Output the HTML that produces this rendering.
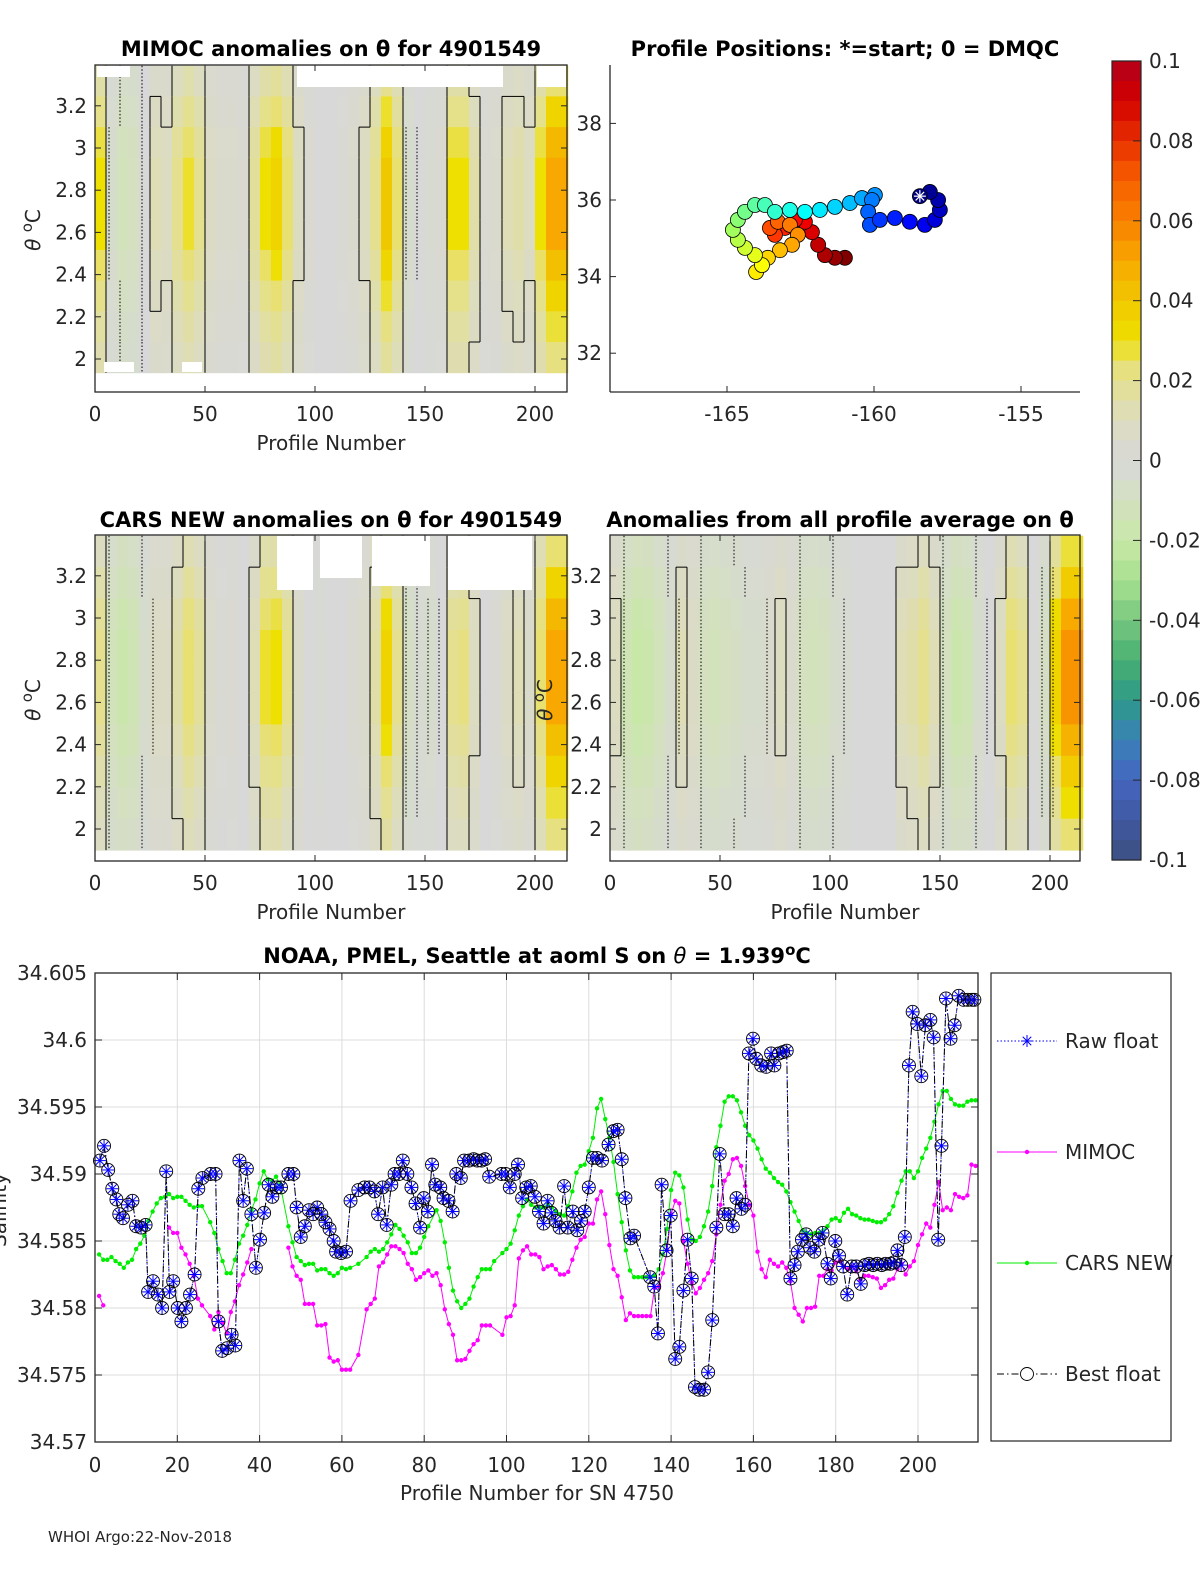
<!DOCTYPE html>
<html><head><meta charset="utf-8"><title>Argo float 4901549 anomalies</title>
<style>
html,body{margin:0;padding:0;background:#fff;}
svg text{font-family:"DejaVu Sans","Liberation Sans",sans-serif;fill:#262626;}
.tl{font-size:20px;}
.ttl{font-size:21px;font-weight:bold;fill:#000;}
</style></head>
<body>
<svg id="fig" xmlns="http://www.w3.org/2000/svg" width="1200" height="1575" viewBox="0 0 1200 1575">
<rect x="0" y="0" width="1200" height="1575" fill="#fff"/>
</svg>
<script>
// ===== data: heatmap column anomalies (5-profile bins, 0..215) =====
const mimocCols=[0.03,-0.005,-0.012,-0.01,0.0,0.012,0.01,0.02,0.028,0.02,0.008,0.005,0.005,0.003,0.018,0.03,0.035,0.025,0.01,0.003,0,0,0.002,0.005,0.01,0.02,0.04,0.025,-0.005,0.0,-0.003,0.003,0.03,0.03,0.015,0.003,0.005,0.012,0.015,0.01,0.03,0.05,0.05];
const carsCols=[0.02,-0.012,-0.018,-0.015,-0.005,0.008,0.008,0.015,0.025,0.018,0.005,0.002,0.003,0.0,0.012,0.028,0.03,0.02,0.006,0.0,-0.002,0,0.0,0.003,0.006,0.015,0.035,0.02,-0.008,-0.003,-0.005,0.0,0.02,0.022,0.01,0.0,0.003,0.008,0.012,0.006,0.025,0.05,0.05];
const avgCols=[0.01,-0.015,-0.02,-0.018,-0.012,-0.005,0.012,0.008,-0.01,-0.012,-0.01,-0.008,-0.005,-0.005,0.005,0.01,0.005,-0.01,-0.012,-0.01,-0.005,-0.003,0,0,0,0,0.012,0.015,0.02,0.012,-0.01,-0.018,-0.015,-0.005,0,0.01,0.025,0.02,0,-0.008,0.035,0.055,0.055];
const rowWeights=[0.5,0.7,0.9,1,1,1,0.85,0.7,0.55,0.45];
// ===== data: float positions =====
const posLon=[-158.44,-158.10,-157.82,-157.76,-157.93,-158.27,-158.78,-159.29,-159.80,-160.14,-160.20,-160.07,-159.97,-160.41,-160.82,-161.33,-161.84,-162.35,-162.86,-163.37,-163.71,-164.05,-164.39,-164.63,-164.80,-164.63,-164.39,-164.05,-163.81,-164.01,-163.61,-163.20,-162.79,-162.59,-162.86,-163.27,-163.54,-163.37,-163.03,-162.69,-162.35,-162.11,-161.90,-161.67,-161.33,-160.99];
const posLat=[36.10,36.21,36.00,35.74,35.48,35.35,35.43,35.53,35.48,35.35,35.69,36.00,36.13,36.05,35.92,35.82,35.74,35.69,35.74,35.69,35.87,35.87,35.69,35.48,35.22,34.96,34.75,34.56,34.30,34.12,34.49,34.69,34.83,35.09,35.35,35.43,35.27,35.09,35.27,35.48,35.43,35.16,34.83,34.56,34.49,34.49];
// ===== data: colorbar =====
const cbTicks=[0.1,0.08,0.06,0.04,0.02,0,-0.02,-0.04,-0.06,-0.08,-0.1];
const cbLabels=["0.1","0.08","0.06","0.04","0.02","0","-0.02","-0.04","-0.06","-0.08","-0.1"];
// ===== data: bottom salinity chart =====
const floatProf=[1.2,2.2,3.2,4.2,5.2,5.9,6.8,8,9.1,10,11.2,12.3,12.9,14.1,15.3,16.3,17.3,18.1,19,20.1,21,22.1,23.1,24.2,25.1,26.1,28.1,29.3,30,30.9,32.1,33.2,34.1,35.1,36,36.9,38,39.1,40.1,41.1,42.2,43.1,44.2,45.2,47,48.2,49,50,51,52,53,54,55,56,57,58,58.6,59.8,61,62.1,64,65.5,66.7,67.9,68.8,69.9,70.9,72,72.8,73.9,74.8,75.9,76.9,77.9,79,79.9,80.9,81.9,82.7,83.9,84.7,85.9,86.9,87.8,88.9,89.7,90.9,92,92.9,94,94.8,95.8,98.8,99.8,100.8,102,102.8,103.8,104.8,105.9,106.9,107.9,109,110,110.9,111.9,112.9,114,114.9,116.1,117.2,118.1,119,120,121,122,123.2,124.8,126,127,128,128.9,130.1,131,134.9,135.9,136.8,137.7,138.9,139.9,141,142,143,144,145,145.8,146.8,148,149,150,151,151.8,153,154,155,155.9,157.1,158,158.9,159.9,160.7,161.9,163.1,164.3,165.1,166.2,167.2,168.1,169,170,170.8,171.8,172.8,173.8,174.8,175.9,176.8,178,178.8,179.9,180.8,181.8,182.8,183.9,185,186.1,187.1,188.1,189.1,190.1,191.2,192.1,193.3,194.1,195,195.9,196.8,197.8,198.7,199.8,200.8,201.8,203,203.8,204.9,205.7,206.8,207.9,208.9,209.9,211.1,212.1,213.1,213.7];
const bestVals=[34.591,34.5921,34.5903,34.5889,34.5881,34.587,34.5867,34.5877,34.588,34.5861,34.586,34.5862,34.5812,34.582,34.581,34.580,34.5902,34.5812,34.582,34.580,34.579,34.580,34.581,34.5825,34.5889,34.5897,34.590,34.590,34.579,34.5768,34.577,34.578,34.5772,34.591,34.588,34.5904,34.587,34.583,34.5851,34.5871,34.5892,34.5883,34.589,34.589,34.590,34.590,34.5875,34.5853,34.5861,34.5873,34.587,34.5875,34.587,34.5864,34.5859,34.585,34.5842,34.5841,34.5842,34.588,34.5888,34.589,34.589,34.5887,34.587,34.589,34.5862,34.5892,34.590,34.590,34.591,34.590,34.589,34.5878,34.586,34.5882,34.5872,34.5907,34.5892,34.589,34.5882,34.588,34.5872,34.590,34.5897,34.591,34.591,34.5911,34.591,34.591,34.5911,34.5898,34.590,34.590,34.589,34.590,34.5907,34.5882,34.589,34.5891,34.5883,34.5872,34.5863,34.588,34.5871,34.5865,34.586,34.5891,34.586,34.5872,34.5858,34.5865,34.5872,34.589,34.5912,34.5912,34.591,34.5922,34.5932,34.5933,34.5911,34.5882,34.5852,34.5854,34.5823,34.5816,34.5781,34.5892,34.5843,34.5869,34.5762,34.5771,34.5813,34.5851,34.5822,34.5741,34.5739,34.5739,34.5752,34.5791,34.586,34.5915,34.587,34.587,34.5861,34.5882,34.5874,34.5877,34.599,34.6001,34.5986,34.5981,34.598,34.599,34.5981,34.599,34.5991,34.5992,34.5822,34.5832,34.5842,34.5851,34.5855,34.5845,34.5842,34.5851,34.5856,34.5833,34.5822,34.585,34.5839,34.5831,34.581,34.5831,34.5831,34.5818,34.5832,34.5833,34.5832,34.5833,34.5832,34.5833,34.5833,34.5834,34.5843,34.5832,34.5853,34.5981,34.6021,34.6012,34.5973,34.6011,34.6015,34.6002,34.5851,34.5921,34.6031,34.6001,34.6011,34.6033,34.603,34.603,34.603,34.603];
const rawVals=bestVals.slice();
const carsProf=[1,2,3,4,5,6,7,8,9,10,11,12,13,14,15,16,17,18,19,20,21,22,23,24,25,26,28,29,30,31,32,33,34,35,36,37,38,39,40,41,42,43,44,45,47,48,49,50,51,52,53,54,55,56,57,58,59,60,61,62,64,66,67,68,69,70,71,72,73,74,75,76,77,78,79,80,81,83,84,85,86,87,88,89,90,91,92,93,94,95,96,97,99,100,101,102,103,104,105,106,107,108,109,110,111,112,113,114,115,116,117,118,119,120,121,122,123,124,125,126,127,128,129,130,131,132,133,134,135,136,137,138,139,140,141,142,143,144,145,146,147,148,149,150,151,152,153,154,155,156,157,158,159,160,161,162,163,164,165,166,167,168,169,170,171,172,173,174,175,176,177,178,179,180,181,182,183,184,185,186,187,188,189,190,191,192,193,194,195,196,197,198,199,200,201,202,203,204,205,206,207,208,209,210,211,212,213,214];
const carsVals=[34.5840,34.5836,34.5836,34.5838,34.5835,34.5833,34.5830,34.5834,34.5836,34.5844,34.5848,34.5854,34.5865,34.5872,34.5878,34.5882,34.5883,34.5885,34.5882,34.5883,34.5883,34.5880,34.5877,34.5875,34.5876,34.5876,34.5864,34.5856,34.5844,34.5835,34.5826,34.5826,34.5836,34.5848,34.5854,34.5862,34.5873,34.5881,34.5893,34.5902,34.5896,34.5895,34.5898,34.5892,34.5861,34.5849,34.5838,34.5835,34.5832,34.5833,34.5833,34.5828,34.5829,34.5829,34.5826,34.5824,34.5826,34.5830,34.5829,34.5830,34.5833,34.5838,34.5842,34.5844,34.5842,34.5844,34.5849,34.5855,34.5862,34.5859,34.5854,34.5849,34.5841,34.5841,34.5845,34.5853,34.5861,34.5873,34.5865,34.5849,34.5830,34.5813,34.5805,34.5800,34.5803,34.5807,34.5816,34.5823,34.5829,34.5829,34.5829,34.5835,34.5841,34.5844,34.5848,34.5858,34.5869,34.5876,34.5881,34.5877,34.5875,34.5875,34.5875,34.5877,34.5875,34.5872,34.5870,34.5869,34.5876,34.5887,34.5901,34.5906,34.5907,34.5917,34.5927,34.5949,34.5956,34.5941,34.5927,34.5909,34.5885,34.5864,34.5843,34.5828,34.5823,34.5823,34.5823,34.5823,34.5823,34.5824,34.5829,34.5840,34.5859,34.5888,34.5901,34.5899,34.5890,34.5866,34.5851,34.5850,34.5853,34.5861,34.5872,34.5891,34.5920,34.5936,34.5954,34.5958,34.5958,34.5955,34.5946,34.5936,34.5929,34.5925,34.5919,34.5911,34.5904,34.5901,34.5897,34.5894,34.5892,34.5887,34.5879,34.5872,34.5865,34.5858,34.5856,34.5855,34.5856,34.5856,34.5858,34.5861,34.5866,34.5867,34.5865,34.5871,34.5874,34.5870,34.5869,34.5867,34.5866,34.5866,34.5865,34.5864,34.5864,34.5866,34.5870,34.5876,34.5886,34.5895,34.5902,34.5902,34.5897,34.5902,34.5912,34.5919,34.5927,34.5939,34.5952,34.5962,34.5962,34.5956,34.5952,34.5951,34.5951,34.5954,34.5955,34.5955];
const mimProf=[1,2,null,18,19,20,21,22,23,24,25,26,28,29,30,31,32,33,34,35,36,37,38,null,47,48,49,50,51,52,53,54,55,56,57,58,59,60,61,62,64,66,67,68,69,70,71,72,73,74,75,76,77,78,79,80,81,82,83,84,85,86,87,88,89,90,91,92,93,94,95,96,99,100,101,102,103,104,105,106,107,108,109,110,111,112,113,114,115,116,117,118,119,120,121,122,123,124,125,126,127,128,129,130,131,132,133,134,135,136,137,138,139,140,141,142,143,144,145,146,147,148,149,150,151,152,153,154,155,156,157,158,159,160,161,162,163,164,165,166,167,168,169,170,171,172,173,174,175,176,177,178,179,180,181,182,183,184,185,186,187,188,189,190,191,192,193,194,195,196,197,198,199,200,201,202,203,204,205,206,207,208,209,210,211,212,213,214];
const mimVals=[34.5809,34.5802,null,34.5860,34.5856,34.5856,34.5845,34.5840,34.5833,34.5824,34.5807,34.5802,34.5794,34.5784,34.5797,34.5789,34.5781,34.5797,34.5805,34.5817,34.5825,34.5834,34.5844,null,34.5845,34.5831,34.5824,34.5821,34.5803,34.5803,34.5803,34.5787,34.5787,34.5788,34.5763,34.5760,34.5761,34.5754,34.5754,34.5754,34.5765,34.5799,34.5803,34.5807,34.5831,34.5834,34.5840,34.5846,34.5846,34.5844,34.5841,34.5833,34.5829,34.5821,34.5823,34.5826,34.5828,34.5824,34.5826,34.5817,34.5799,34.5788,34.5780,34.5761,34.5761,34.5762,34.5768,34.5773,34.5776,34.5787,34.5787,34.5787,34.5780,34.5793,34.5794,34.5802,34.5837,34.5843,34.5846,34.5840,34.5840,34.5838,34.5829,34.5831,34.5832,34.5829,34.5825,34.5825,34.5827,34.5836,34.5845,34.5851,34.5853,34.5863,34.5863,34.5881,34.5887,34.5870,34.5847,34.5829,34.5824,34.5808,34.5791,34.5796,34.5794,34.5794,34.5794,34.5794,34.5794,34.5815,34.5816,34.5826,34.5843,34.5870,34.5880,34.5878,34.5850,34.5833,34.5819,34.5811,34.5815,34.5821,34.5826,34.5835,34.5855,34.5877,34.5895,34.5900,34.5911,34.5912,34.5906,34.5891,34.5877,34.5869,34.5842,34.5829,34.5823,34.5836,34.5833,34.5831,34.5834,34.5830,34.5820,34.5800,34.5795,34.5790,34.5800,34.5800,34.5801,34.5824,34.5824,34.5829,34.5828,34.5834,34.5835,34.5831,34.5829,34.5831,34.5828,34.5821,34.5824,34.5824,34.5823,34.5822,34.5815,34.5817,34.5821,34.5822,34.5829,34.5833,34.5825,34.5831,34.5835,34.5847,34.5855,34.5863,34.5860,34.5877,34.5894,34.5873,34.5875,34.5873,34.5885,34.5883,34.5882,34.5884,34.5907,34.5906];
const salXTicks=[0,20,40,60,80,100,120,140,160,180,200];
const salYTicks=[34.57,34.575,34.58,34.585,34.59,34.595,34.6,34.605];
const salYLabels=["34.57","34.575","34.58","34.585","34.59","34.595","34.6","34.605"];
const thetaTicks=[2,2.2,2.4,2.6,2.8,3,3.2];
const thetaLabels=["2","2.2","2.4","2.6","2.8","3","3.2"];
const profTicks=[0,50,100,150,200];
const lonTicks=[-165,-160,-155];
const latTicks=[32,34,36,38];

const NS='http://www.w3.org/2000/svg';
const svg=document.getElementById('fig');
function mk(tag,attrs,name,parent){
  const e=document.createElementNS(NS,tag);
  for(const k in attrs) e.setAttribute(k,attrs[k]);
  
  
  (parent||svg).appendChild(e);
  return e;
}
function txt(s,x,y,attrs,name,parent){const t=mk('text',Object.assign({x:x,y:y},attrs),name,parent);t.textContent=s;return t;}

const cmStops=[[-0.1,'#3a5080'],[-0.09,'#4058a0'],[-0.08,'#4466c0'],[-0.07,'#3a80b8'],[-0.06,'#2e9a88'],[-0.05,'#48b070'],[-0.04,'#78c880'],[-0.03,'#a8e090'],[-0.02,'#c8e8a8'],[-0.01,'#d4e0c0'],[0,'#d8d8d8'],[0.01,'#dcdcc0'],[0.02,'#e4e090'],[0.025,'#e8e070'],[0.03,'#eee000'],[0.04,'#f0c800'],[0.05,'#f8a800'],[0.06,'#f88000'],[0.07,'#f86000'],[0.08,'#e83000'],[0.09,'#d40000'],[0.1,'#b0001c']];
function hex(c){return [parseInt(c.substr(1,2),16),parseInt(c.substr(3,2),16),parseInt(c.substr(5,2),16)];}
function cmap(v){
  v=Math.max(-0.1,Math.min(0.1,v));
  for(let i=0;i<cmStops.length-1;i++){
    const a=cmStops[i],b=cmStops[i+1];
    if(v>=a[0]&&v<=b[0]){const t=(v-a[0])/(b[0]-a[0]);const ca=hex(a[1]),cb=hex(b[1]);
      return 'rgb('+ca.map((c,j)=>Math.round(c+(cb[j]-c)*t)).join(',')+')';}
  }
  return '#d8d8d8';
}
function jet(t){
  const r=Math.min(1,Math.max(0,1.5-Math.abs(4*t-3))),g=Math.min(1,Math.max(0,1.5-Math.abs(4*t-2))),b=Math.min(1,Math.max(0,1.5-Math.abs(4*t-1)));
  return 'rgb('+[r,g,b].map(c=>Math.round(c*255)).join(',')+')';
}

function heatPanel(opt){
  const g=mk('g',{},opt.name);
  const X=p=>opt.x0+p*2.2;
  const T=th=>opt.y2-(th-2)*211;
  const thTop=opt.thTop, thBot=opt.thBot, nR=rowWeights.length;
  const rh=(T(thBot)-T(thTop))/nR;
  opt.cols.forEach((v,b)=>{
    rowWeights.forEach((w,r)=>{
      mk('rect',{x:X(b*5).toFixed(2),y:(T(thTop)+r*rh).toFixed(2),width:(11.3).toFixed(2),height:(rh+0.5).toFixed(2),fill:cmap(v*w)},'heatmap-cell',g);
    });
  });
  // contour-like boundaries derived from data (+0.008 solid, -0.008 dotted)
  for(let b=0;b<opt.cols.length-1;b++){
    rowWeights.forEach((w,r)=>{
      const a=opt.cols[b]*w, c=opt.cols[b+1]*w, xx=X((b+1)*5);
      const y=T(thTop)+r*rh;
      if((a>0.008)!==(c>0.008)) mk('line',{x1:xx,x2:xx,y1:y,y2:y+rh,stroke:'#000','stroke-width':1},'contour-positive',g);
      if((a<-0.004)!==(c<-0.004)) mk('line',{x1:xx+3,x2:xx+3,y1:y,y2:y+rh,stroke:'#000','stroke-width':1,'stroke-dasharray':'1.5 2'},'contour-negative',g);
    });
  }
  opt.cols.forEach((v,b)=>{
    for(let r=0;r<rowWeights.length-1;r++){
      const a=v*rowWeights[r], c=v*rowWeights[r+1], y=T(thTop)+(r+1)*rh;
      if((a>0.008)!==(c>0.008)) mk('line',{x1:X(b*5),x2:X(b*5)+11,y1:y,y2:y,stroke:'#000','stroke-width':1},'contour-positive',g);
    }
  });
  (opt.masks||[]).forEach(m=>mk('rect',{x:m[0],y:m[1],width:m[2],height:m[3],fill:'#fff'},'missing-data',g));
  mk('rect',{x:opt.x0,y:opt.yTop,width:opt.w,height:opt.h,fill:'none',stroke:'#262626','stroke-width':1.3},'axes-box',g);
  profTicks.forEach(p=>{
    mk('line',{x1:X(p),x2:X(p),y1:opt.yTop+opt.h,y2:opt.yTop+opt.h-6,stroke:'#262626'},'x-tick',g);
    mk('line',{x1:X(p),x2:X(p),y1:opt.yTop,y2:opt.yTop+6,stroke:'#262626'},'x-tick',g);
    txt(String(p),X(p),opt.yTop+opt.h+29,{class:'tl','text-anchor':'middle'},'x-tick-label',g);
  });
  thetaTicks.forEach((th,i)=>{
    mk('line',{x1:opt.x0,x2:opt.x0+6,y1:T(th),y2:T(th),stroke:'#262626'},'y-tick',g);
    mk('line',{x1:opt.x0+opt.w,x2:opt.x0+opt.w-6,y1:T(th),y2:T(th),stroke:'#262626'},'y-tick',g);
    txt(thetaLabels[i],opt.x0-8,T(th)+7,{class:'tl','text-anchor':'end'},'y-tick-label',g);
  });
  if(opt.xlabel) txt('Profile Number',opt.x0+opt.w/2,opt.yTop+opt.h+58,{class:'tl','text-anchor':'middle','font-size':'22'},'x-axis-title',g);
  const yl=txt('',opt.ylx,opt.yly,{class:'tl','text-anchor':'middle','font-size':'22',transform:'rotate(-90 '+opt.ylx+' '+opt.yly+')'},'y-axis-title',g);
  yl.innerHTML='<tspan font-style="italic">θ</tspan> <tspan dy="-8" font-size="15">o</tspan><tspan dy="8">C</tspan>';
  txt(opt.title,opt.tx,opt.ty,{class:'ttl','text-anchor':'middle'},'panel-title',g);
}
heatPanel({name:'mimoc-panel',cols:mimocCols,x0:95,yTop:65,w:472,h:327,y2:359,thTop:3.39,thBot:1.935,
  masks:[[97,66,33,11],[297,66,206,21],[537,66,29,21],[104,362,30,10],[182,362,20,10]],
  xlabel:true,ylx:40,yly:230,title:'MIMOC anomalies on θ  for 4901549',tx:331,ty:56});
heatPanel({name:'cars-panel',cols:carsCols,x0:95,yTop:535,w:472,h:326,y2:829,thTop:3.39,thBot:1.9,
  masks:[[277,536,36,54],[320,536,42,42],[372,536,58,50],[448,536,84,54]],
  xlabel:true,ylx:40,yly:700,title:'CARS NEW anomalies on θ for 4901549',tx:331,ty:527});
heatPanel({name:'average-panel',cols:avgCols,x0:610,yTop:535,w:470,h:326,y2:829,thTop:3.39,thBot:1.9,
  masks:[],xlabel:true,ylx:552,yly:700,title:'Anomalies from all profile average on θ',tx:840,ty:527});

(function(){
  const g=mk('g',{},'positions-panel');
  const LX=l=>727+(l+165)*29.4, LY=l=>200-(l-36)*38.3;
  mk('line',{x1:610,x2:610,y1:65,y2:392,stroke:'#262626','stroke-width':1.3},'y-axis-line',g);
  mk('line',{x1:610,x2:1080,y1:392,y2:392,stroke:'#262626','stroke-width':1.3},'x-axis-line',g);
  lonTicks.forEach(l=>{mk('line',{x1:LX(l),x2:LX(l),y1:392,y2:386,stroke:'#262626'},'x-tick',g);
    txt(String(l),LX(l),421,{class:'tl','text-anchor':'middle'},'x-tick-label',g);});
  latTicks.forEach(l=>{mk('line',{x1:610,x2:616,y1:LY(l),y2:LY(l),stroke:'#262626'},'y-tick',g);
    txt(String(l),602,LY(l)+7,{class:'tl','text-anchor':'end'},'y-tick-label',g);});
  const n=posLon.length;
  for(let i=n-1;i>=0;i--){
    mk('circle',{cx:LX(posLon[i]),cy:LY(posLat[i]),r:7.5,fill:jet(i/(n-1)),stroke:'#000','stroke-width':0.8},'position-marker',g);
  }
  const sx=LX(posLon[0]),sy=LY(posLat[0]);
  for(let a=0;a<4;a++){const an=a*Math.PI/4;mk('line',{x1:sx-6*Math.cos(an),y1:sy-6*Math.sin(an),x2:sx+6*Math.cos(an),y2:sy+6*Math.sin(an),stroke:'#fff','stroke-width':1.2},'start-marker',g);}
  txt('Profile Positions: *=start; 0 = DMQC',845,56,{class:'ttl','text-anchor':'middle'},'panel-title',g);
})();

(function(){
  const g=mk('g',{},'colorbar');
  const top=61,bot=860,x=1112,w=29;
  const CY=v=>top+(0.1-v)/0.2*(bot-top);
  const n=40;
  for(let i=0;i<n;i++){const v=0.1-(i+0.5)*0.2/n;
    mk('rect',{x:x,y:(top+i*(bot-top)/n).toFixed(2),width:w,height:((bot-top)/n+0.6).toFixed(2),fill:cmap(v)},'colorbar-segment',g);}
  mk('rect',{x:x,y:top,width:w,height:bot-top,fill:'none',stroke:'#262626','stroke-width':1.2},'colorbar-frame',g);
  cbTicks.forEach((v,i)=>{
    mk('line',{x1:x+w-8,x2:x+w,y1:CY(v),y2:CY(v),stroke:'#262626'},'colorbar-tick',g);
    txt(cbLabels[i],1149,CY(v)+7,{class:'tl','font-size':'19'},'colorbar-label',g);
  });
})();

(function(){
  const g=mk('g',{},'salinity-chart');
  const X=p=>95+p*4.115, Y=v=>973+(34.605-v)*13400;
  const x0=95,x1=978,y0=973,y1=1442;
  mk('rect',{x:x0,y:y0,width:x1-x0,height:y1-y0,fill:'#fff'},'plot-area',g);
  salXTicks.forEach(p=>{mk('line',{x1:X(p),x2:X(p),y1:y0,y2:y1,stroke:'#dcdcdc'},'x-grid',g);
    txt(String(p),X(p),1472,{class:'tl','text-anchor':'middle'},'x-tick-label',g);
    mk('line',{x1:X(p),x2:X(p),y1:y1,y2:y1-7,stroke:'#262626'},'x-tick',g);
    mk('line',{x1:X(p),x2:X(p),y1:y0,y2:y0+7,stroke:'#262626'},'x-tick',g);});
  salYTicks.forEach((v,i)=>{mk('line',{x1:x0,x2:x1,y1:Y(v),y2:Y(v),stroke:'#dcdcdc'},'y-grid',g);
    txt(salYLabels[i],87,Y(v)+7,{class:'tl','text-anchor':'end'},'y-tick-label',g);
    mk('line',{x1:x0,x2:x0+7,y1:Y(v),y2:Y(v),stroke:'#262626'},'y-tick',g);
    mk('line',{x1:x1,x2:x1-7,y1:Y(v),y2:Y(v),stroke:'#262626'},'y-tick',g);});
  function pathOf(ps,vs){let d='',pen=false;for(let i=0;i<ps.length;i++){if(ps[i]===null||vs[i]===null){pen=false;continue;}
    d+=(pen?'L':'M')+X(ps[i]).toFixed(1)+' '+Y(vs[i]).toFixed(1);pen=true;}return d;}
  mk('path',{d:pathOf(mimProf,mimVals),fill:'none',stroke:'#ff00ff','stroke-width':1},'mimoc-line',g);
  mimProf.forEach((p,i)=>{if(p!==null) mk('circle',{cx:X(p),cy:Y(mimVals[i]),r:2.2,fill:'#ff00ff'},'mimoc-point',g);});
  mk('path',{d:pathOf(carsProf,carsVals),fill:'none',stroke:'#00ee00','stroke-width':1},'cars-line',g);
  carsProf.forEach((p,i)=>mk('circle',{cx:X(p),cy:Y(carsVals[i]),r:2.2,fill:'#00ee00'},'cars-point',g));
  mk('path',{d:pathOf(floatProf,rawVals),fill:'none',stroke:'#0000ff','stroke-width':1,'stroke-dasharray':'1.5 2'},'raw-float-line',g);
  function star(cx,cy,s,col,name,parent){for(let a=0;a<4;a++){const an=a*Math.PI/4;
    mk('line',{x1:cx-s*Math.cos(an),y1:cy-s*Math.sin(an),x2:cx+s*Math.cos(an),y2:cy+s*Math.sin(an),stroke:col,'stroke-width':1},name,parent);}}
  mk('path',{d:pathOf(floatProf,bestVals),fill:'none',stroke:'#000','stroke-width':1,'stroke-dasharray':'7 3 1.5 3'},'best-float-line',g);
  floatProf.forEach((p,i)=>star(X(p),Y(rawVals[i]),6,'#0000ff','raw-float-point',g));
  floatProf.forEach((p,i)=>mk('circle',{cx:X(p),cy:Y(bestVals[i]),r:6.5,fill:'none',stroke:'#000','stroke-width':0.9},'best-float-point',g));
  mk('rect',{x:x0,y:y0,width:x1-x0,height:y1-y0,fill:'none',stroke:'#262626','stroke-width':1.3},'axes-box',g);
  const tt=txt('',537,963,{class:'ttl','text-anchor':'middle'},'chart-title',g);
  tt.innerHTML='NOAA, PMEL, Seattle at aoml S on <tspan font-style="italic" font-weight="normal">θ</tspan> = 1.939<tspan dy="-8" font-size="15">o</tspan><tspan dy="8">C</tspan>';
  txt('Profile Number for SN 4750',537,1500,{class:'tl','text-anchor':'middle','font-size':'22'},'x-axis-title',g);
  txt('Salinity',6,1210,{class:'tl','text-anchor':'middle','font-size':'22',transform:'rotate(-90 6 1210)'},'y-axis-title',g);
  const lg=mk('g',{},'legend',g);
  mk('rect',{x:991,y:973,width:180,height:468,fill:'#fff',stroke:'#262626','stroke-width':1.2},'legend-box',lg);
  const ly=[1041,1152,1263,1374];
  mk('line',{x1:997,x2:1057,y1:ly[0],y2:ly[0],stroke:'#0000ff','stroke-dasharray':'1.5 2'},'legend-raw-line',lg);
  star(1027,ly[0],6,'#0000ff','legend-raw-marker',lg);
  txt('Raw float',1065,ly[0]+7,{class:'tl','font-size':'19'},'legend-raw-label',lg);
  mk('line',{x1:997,x2:1057,y1:ly[1],y2:ly[1],stroke:'#ff00ff'},'legend-mimoc-line',lg);
  mk('circle',{cx:1027,cy:ly[1],r:2.2,fill:'#ff00ff'},'legend-mimoc-marker',lg);
  txt('MIMOC',1065,ly[1]+7,{class:'tl','font-size':'19'},'legend-mimoc-label',lg);
  mk('line',{x1:997,x2:1057,y1:ly[2],y2:ly[2],stroke:'#00ee00'},'legend-cars-line',lg);
  mk('circle',{cx:1027,cy:ly[2],r:2.2,fill:'#00ee00'},'legend-cars-marker',lg);
  txt('CARS NEW',1065,ly[2]+7,{class:'tl','font-size':'19'},'legend-cars-label',lg);
  mk('line',{x1:997,x2:1057,y1:ly[3],y2:ly[3],stroke:'#000','stroke-dasharray':'7 3 1.5 3'},'legend-best-line',lg);
  mk('circle',{cx:1027,cy:ly[3],r:6.5,fill:'#fff',stroke:'#000','stroke-width':0.9},'legend-best-marker',lg);
  txt('Best float',1065,ly[3]+7,{class:'tl','font-size':'19'},'legend-best-label',lg);
})();
txt('WHOI Argo:22-Nov-2018',48,1542,{'font-size':'15',fill:'#000'},'footer-text');
</script>
</body></html>
